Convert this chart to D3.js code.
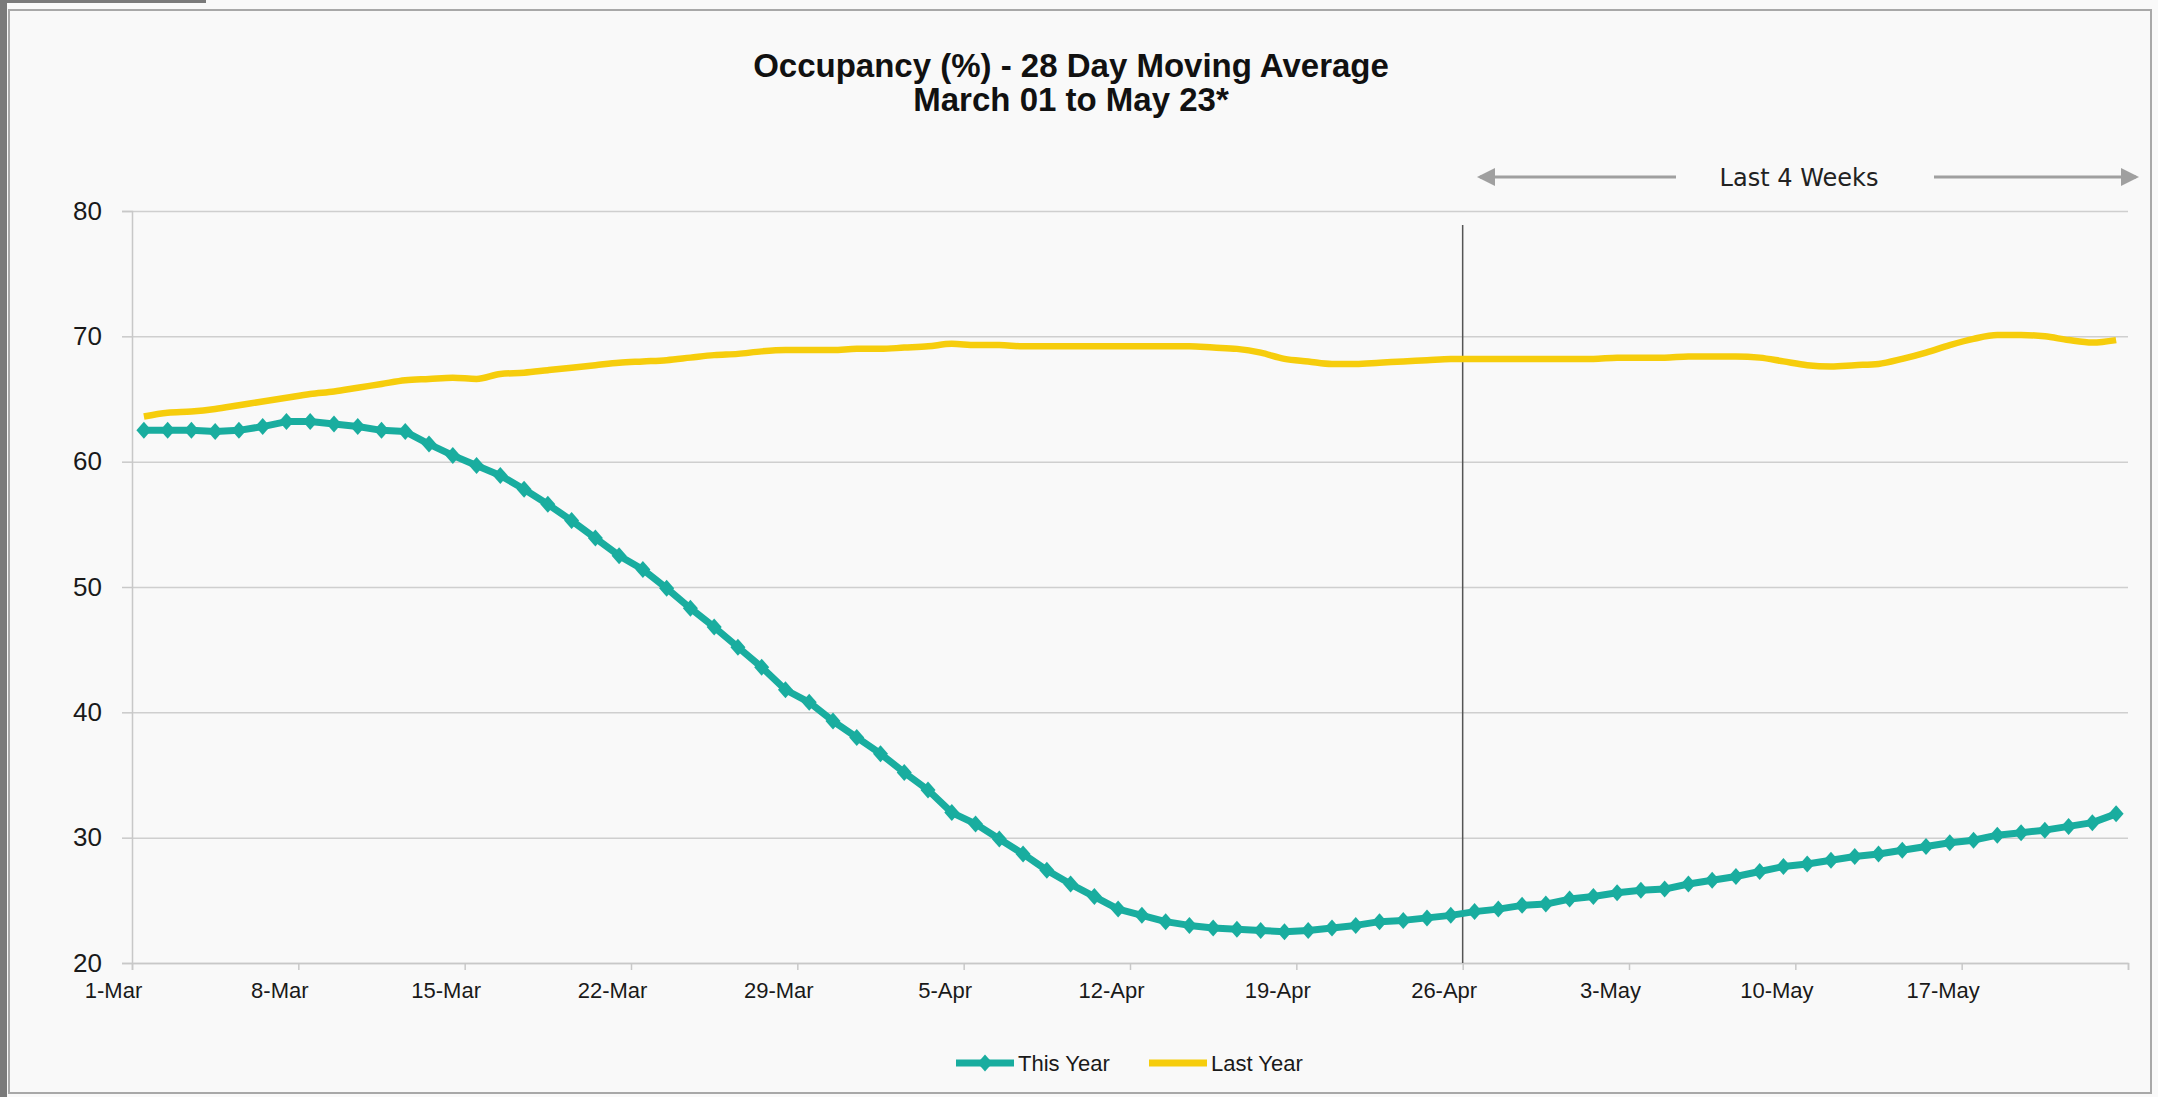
<!DOCTYPE html>
<html>
<head>
<meta charset="utf-8">
<script src="https://cdn.jsdelivr.net/npm/d3@7"></script>
<style>
  body { margin: 0; background: #f9f9f9; }
  svg { display: block; }
</style>
</head>
<body>
<svg id="chart" width="2158" height="1097"></svg>
<script>
// 28 day moving average, one value per day, 1-Mar .. 23-May
const thisYear = [
  62.5, 62.5, 62.5, 62.4, 62.5, 62.8, 63.2, 63.2, 63.0, 62.8,
  62.5, 62.4, 61.4, 60.5, 59.7, 58.9, 57.8, 56.6, 55.3, 53.9,
  52.5, 51.4, 49.9, 48.3, 46.8, 45.2, 43.6, 41.8, 40.8, 39.3,
  38.0, 36.7, 35.2, 33.8, 32.0, 31.1, 29.9, 28.7, 27.4, 26.3,
  25.3, 24.3, 23.8, 23.3, 23.0, 22.8, 22.7, 22.6, 22.5, 22.6,
  22.8, 23.0, 23.3, 23.4, 23.6, 23.8, 24.1, 24.3, 24.6, 24.7,
  25.1, 25.3, 25.6, 25.8, 25.9, 26.3, 26.6, 26.9, 27.3, 27.7,
  27.9, 28.2, 28.5, 28.7, 29.0, 29.3, 29.6, 29.8, 30.2, 30.4,
  30.6, 30.9, 31.2, 31.9
];
const lastYear = [
  63.6, 63.9, 64.0, 64.2, 64.5, 64.8, 65.1, 65.4, 65.6, 65.9,
  66.2, 66.5, 66.6, 66.7, 66.6, 67.0, 67.1, 67.3, 67.5, 67.7,
  67.9, 68.0, 68.1, 68.3, 68.5, 68.6, 68.8, 68.9, 68.9, 68.9,
  69.0, 69.0, 69.1, 69.2, 69.4, 69.3, 69.3, 69.2, 69.2, 69.2,
  69.2, 69.2, 69.2, 69.2, 69.2, 69.1, 69.0, 68.7, 68.2, 68.0,
  67.8, 67.8, 67.9, 68.0, 68.1, 68.2, 68.2, 68.2, 68.2, 68.2,
  68.2, 68.2, 68.3, 68.3, 68.3, 68.4, 68.4, 68.4, 68.3, 68.0,
  67.7, 67.6, 67.7, 67.8, 68.2, 68.7, 69.3, 69.8, 70.1, 70.1,
  70.0, 69.7, 69.5, 69.7
];
const tickLabels = ["1-Mar", "8-Mar", "15-Mar", "22-Mar", "29-Mar", "5-Apr",
  "12-Apr", "19-Apr", "26-Apr", "3-May", "10-May", "17-May"];
const yTicks = [20, 30, 40, 50, 60, 70, 80];
const seriesNames = ["This Year", "Last Year"];
const lastWeeksStart = 56; // 26-Apr

const teal = "#19ad9f";
const yellow = "#f6cd0c";

const svg = d3.select("#chart");
const plotLeft = 132, plotRight = 2128, plotTop = 211, plotBottom = 963;

// frame
svg.append("rect").attr("x", 0).attr("y", 0).attr("width", 7).attr("height", 1097).attr("fill", "#7a7a7a");
svg.append("rect").attr("x", 0).attr("y", 0).attr("width", 206).attr("height", 3).attr("fill", "#7a7a7a");
svg.append("rect")
  .attr("x", 9).attr("y", 10).attr("width", 2142).attr("height", 1083)
  .attr("fill", "#f9f9f9").attr("stroke", "#a8a8a8").attr("stroke-width", 2);

const x = d3.scaleLinear().domain([0, thisYear.length]).range([plotLeft, plotRight]);
const y = d3.scaleLinear().domain([20, 80]).range([plotBottom, plotTop]);

// title
svg.append("g")
  .attr("font-family", "'Liberation Sans', Arial, sans-serif")
  .attr("font-weight", "bold")
  .attr("font-size", 33)
  .attr("text-anchor", "middle")
  .selectAll("text")
  .data(["Occupancy (%) - 28 Day Moving Average", "March 01 to May 23*"])
  .join("text")
  .attr("x", 1071)
  .attr("y", (d, i) => 77 + i * 34)
  .attr("fill", "#111")
  .text((d) => d);

// grid
svg.append("g")
  .attr("transform", `translate(${plotLeft},0)`)
  .call(d3.axisLeft(y).tickValues(yTicks).tickSize(-(plotRight - plotLeft)).tickFormat(""))
  .call((g) => g.select(".domain").remove())
  .call((g) => g.selectAll("line").attr("stroke", "#cfcfcf").attr("stroke-width", 1.5));

// y axis
svg.append("g")
  .attr("transform", `translate(${plotLeft},0)`)
  .call(d3.axisLeft(y).tickValues(yTicks).tickSize(10).tickPadding(20))
  .call((g) => g.select(".domain").attr("stroke", "#c8c8c8").attr("stroke-width", 1.5))
  .call((g) => g.selectAll("line").attr("stroke", "#c8c8c8").attr("stroke-width", 1.5))
  .call((g) => g.selectAll("text")
    .attr("font-family", "'Liberation Sans', Arial, sans-serif")
    .attr("font-size", 26)
    .attr("fill", "#1a1a1a"));

// x axis
svg.append("g")
  .attr("transform", `translate(0,${plotBottom})`)
  .call(d3.axisBottom(x)
    .tickValues(d3.range(0, thisYear.length + 1, 7))
    .tickSize(7)
    .tickPadding(12)
    .tickFormat((d) => tickLabels[d / 7] || ""))
  .call((g) => g.select(".domain").attr("stroke", "#c8c8c8").attr("stroke-width", 1.5))
  .call((g) => g.selectAll("line").attr("stroke", "#c8c8c8").attr("stroke-width", 1.5))
  .call((g) => g.selectAll("text")
    .attr("dx", -19)
    .attr("font-family", "'Liberation Sans', Arial, sans-serif")
    .attr("font-size", 22)
    .attr("fill", "#1a1a1a"));

// last 4 weeks marker
const splitX = x(lastWeeksStart);
svg.append("line")
  .attr("x1", splitX).attr("x2", splitX)
  .attr("y1", 225).attr("y2", plotBottom)
  .attr("stroke", "#555").attr("stroke-width", 1.5);

const defs = svg.append("defs");
defs.append("marker")
  .attr("id", "arrowHead")
  .attr("markerWidth", 6).attr("markerHeight", 6)
  .attr("refX", 5).attr("refY", 3)
  .attr("orient", "auto")
  .attr("markerUnits", "strokeWidth")
  .append("path")
  .attr("d", "M0,0 L6,3 L0,6 z")
  .attr("fill", "#a0a0a0");

const arrowY = 177;
svg.append("line")
  .attr("x1", 1676).attr("x2", 1480).attr("y1", arrowY).attr("y2", arrowY)
  .attr("stroke", "#a0a0a0").attr("stroke-width", 3)
  .attr("marker-end", "url(#arrowHead)");
svg.append("line")
  .attr("x1", 1934).attr("x2", 2136).attr("y1", arrowY).attr("y2", arrowY)
  .attr("stroke", "#a0a0a0").attr("stroke-width", 3)
  .attr("marker-end", "url(#arrowHead)");
svg.append("text")
  .attr("x", 1799).attr("y", arrowY + 9)
  .attr("text-anchor", "middle")
  .attr("font-family", "'DejaVu Sans', Verdana, sans-serif")
  .attr("font-size", 24)
  .attr("fill", "#222")
  .text("Last 4 Weeks");

// series
const lineYellow = d3.line()
  .x((d, i) => x(i + 0.5))
  .y((d) => y(d))
  .curve(d3.curveMonotoneX);
const lineTeal = d3.line()
  .x((d, i) => x(i + 0.5))
  .y((d) => y(d));

svg.append("path")
  .datum(lastYear)
  .attr("d", lineYellow)
  .attr("fill", "none")
  .attr("stroke", yellow)
  .attr("stroke-width", 6.5)
  .attr("stroke-linejoin", "round");

svg.append("path")
  .datum(thisYear)
  .attr("d", lineTeal)
  .attr("fill", "none")
  .attr("stroke", teal)
  .attr("stroke-width", 7)
  .attr("stroke-linejoin", "round");

const diamond = "M0,-8.5L7.5,0L0,8.5L-7.5,0Z";
svg.append("g")
  .selectAll("path")
  .data(thisYear)
  .join("path")
  .attr("transform", (d, i) => `translate(${x(i + 0.5)},${y(d)})`)
  .attr("d", diamond)
  .attr("fill", teal);

// legend
const legend = svg.append("g")
  .attr("font-family", "'Liberation Sans', Arial, sans-serif")
  .attr("font-size", 22);
const legendItems = legend.selectAll("g")
  .data(seriesNames)
  .join("g")
  .attr("transform", (d, i) => `translate(${956 + i * 193},1063)`);
legendItems.append("line")
  .attr("x1", 0).attr("x2", 58)
  .attr("stroke", (d, i) => (i === 0 ? teal : yellow))
  .attr("stroke-width", 7);
legendItems.filter((d, i) => i === 0)
  .append("path")
  .attr("transform", "translate(29,0)")
  .attr("d", diamond)
  .attr("fill", teal);
legendItems.append("text")
  .attr("x", 62).attr("y", 8)
  .attr("fill", "#1a1a1a")
  .text((d) => d);
</script>
</body>
</html>
